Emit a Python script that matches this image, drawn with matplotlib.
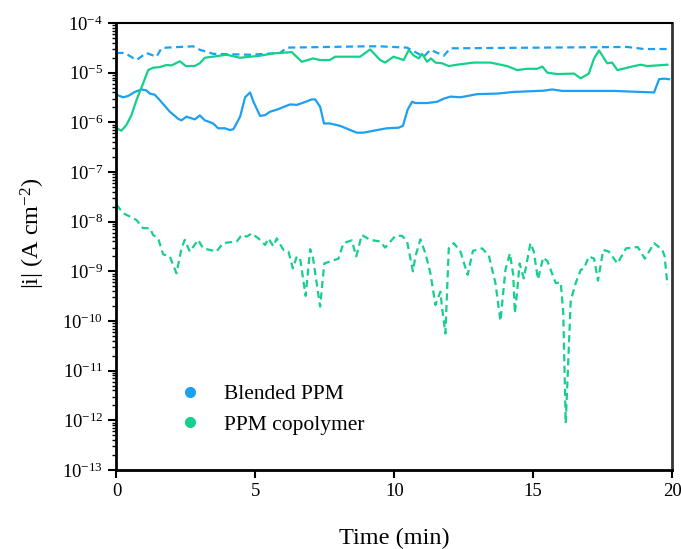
import matplotlib.pyplot as plt
from matplotlib.lines import Line2D
from matplotlib.ticker import LogLocator, LogFormatterMathtext, NullFormatter

# Blended PPM, dashed trace
blend_dash_t = [0, 0.3, 0.72, 1.08, 1.44, 1.62, 1.8, 2.76, 3.0, 3.48, 4.81, 5.89, 6.13,
                9.0, 9.49, 10.46, 11.06, 11.3, 11.78, 12.02, 18.39, 18.99, 19.89]
blend_dash_i = [2.5e-5, 2.5e-5, 1.8e-5, 2.5e-5, 2.1e-5, 3.1e-5, 3.2e-5, 3.4e-5, 2.9e-5,
                2.4e-5, 2.3e-5, 2.5e-5, 3.2e-5, 3.4e-5, 3.4e-5, 3.2e-5, 2.1e-5, 2.9e-5,
                2.2e-5, 3.1e-5, 3.3e-5, 3.0e-5, 3.0e-5]

# Blended PPM, solid trace
blend_t = [0, 0.24, 0.42, 0.66, 0.9, 1.08, 1.2, 1.38, 1.56, 1.92, 2.22, 2.34, 2.52, 2.82,
           3.0, 3.18, 3.48, 3.66, 3.9, 4.09, 4.21, 4.45, 4.63, 4.81, 4.93, 5.17, 5.35,
           5.53, 5.77, 6.07, 6.25, 6.49, 6.73, 7.03, 7.15, 7.33, 7.47, 7.68, 8.05, 8.65,
           8.89, 9.61, 9.73, 10.15, 10.31, 10.48, 10.64, 10.76, 11.18, 11.54, 11.78,
           12.02, 12.38, 12.98, 13.7, 14.3, 15.38, 15.68, 16.04, 17.9, 19.35, 19.53,
           19.71, 19.89]
blend_i = [3.6e-6, 3.2e-6, 3.4e-6, 4.1e-6, 4.6e-6, 4.4e-6, 3.8e-6, 3.6e-6, 2.8e-6, 1.64e-6,
           1.18e-6, 1.1e-6, 1.3e-6, 1.15e-6, 1.38e-6, 1.1e-6, 9.5e-7, 7.6e-7, 7.6e-7,
           7.0e-7, 7.3e-7, 1.3e-6, 3.2e-6, 4.0e-6, 2.6e-6, 1.35e-6, 1.4e-6, 1.64e-6,
           1.8e-6, 2.1e-6, 2.3e-6, 2.25e-6, 2.5e-6, 2.9e-6, 2.9e-6, 2.07e-6, 9.5e-7,
           9.5e-7, 8.5e-7, 6.2e-7, 6.2e-7, 7.4e-7, 7.6e-7, 7.8e-7, 8.5e-7, 1.8e-6,
           2.6e-6, 2.45e-6, 2.45e-6, 2.6e-6, 3.0e-6, 3.3e-6, 3.2e-6, 3.7e-6, 3.8e-6,
           4.1e-6, 4.35e-6, 4.6e-6, 4.3e-6, 4.3e-6, 4.0e-6, 7.4e-6, 7.6e-6, 7.4e-6]

# PPM copolymer, solid trace
copo_t = [0, 0.18, 0.36, 0.54, 0.72, 0.96, 1.14, 1.32, 1.56, 1.8, 1.98, 2.28, 2.5, 2.82,
          3.0, 3.18, 3.97, 4.45, 5.17, 5.65, 6.31, 6.67, 7.08, 7.32, 7.68, 7.87, 8.77,
          9.13, 9.49, 9.67, 9.97, 10.34, 10.52, 10.71, 10.88, 11.0, 11.18, 11.32, 11.48,
          11.72, 11.96, 12.26, 12.86, 13.46, 14.06, 14.42, 14.78, 15.14, 15.33, 15.51,
          15.87, 16.47, 16.71, 17.0, 17.19, 17.37, 17.66, 17.84, 18.03, 18.63, 18.87,
          19.11, 19.83]
copo_i = [7.6e-7, 6.8e-7, 8.9e-7, 1.4e-6, 2.8e-6, 6.1e-6, 1.13e-5, 1.26e-5, 1.3e-5, 1.43e-5,
          1.4e-5, 1.7e-5, 1.36e-5, 1.37e-5, 1.55e-5, 2.0e-5, 2.3e-5, 2.0e-5, 2.2e-5,
          2.45e-5, 2.6e-5, 1.66e-5, 1.94e-5, 1.8e-5, 1.8e-5, 2.1e-5, 2.1e-5, 2.95e-5,
          1.8e-5, 1.6e-5, 2.1e-5, 1.8e-5, 2.86e-5, 2.2e-5, 1.94e-5, 2.4e-5, 1.66e-5,
          1.94e-5, 1.6e-5, 1.55e-5, 1.36e-5, 1.45e-5, 1.6e-5, 1.6e-5, 1.36e-5, 1.13e-5,
          1.2e-5, 1.2e-5, 1.33e-5, 1.0e-5, 9.4e-6, 9.6e-6, 7.7e-6, 9.6e-6, 1.94e-5,
          2.8e-5, 1.55e-5, 1.6e-5, 1.13e-5, 1.36e-5, 1.45e-5, 1.36e-5, 1.45e-5]

# PPM copolymer, dashed trace
copo_dash_t = [0, 0.24, 0.48, 0.72, 0.96, 1.2, 1.32, 1.5, 1.68, 1.92, 2.16, 2.34, 2.46,
               2.64, 2.94, 3.12, 3.36, 3.6, 3.84, 4.33, 4.51, 4.69, 4.87, 5.11, 5.35, 5.47,
               5.65, 5.77, 6.01, 6.19, 6.35, 6.49, 6.61, 6.81, 6.97, 7.06, 7.33, 7.48,
               7.99, 8.17, 8.47, 8.63, 8.83, 9.13, 9.49, 9.67, 10.04, 10.28, 10.46, 10.67,
               10.76, 10.94, 11.12, 11.3, 11.48, 11.66, 11.72, 11.84, 11.96, 12.14, 12.38,
               12.64, 12.83, 12.98, 13.16, 13.4, 13.64, 13.82, 14.0, 14.16, 14.28, 14.34,
               14.42, 14.51, 14.66, 14.72, 14.9, 15.02, 15.17, 15.36, 15.51, 15.81, 15.99,
               16.08, 16.17, 16.35, 16.53, 16.71, 16.83, 17.0, 17.19, 17.33, 17.52, 17.72,
               18.03, 18.34, 18.76, 19.02, 19.35, 19.65, 19.73, 19.83]
copo_dash_i = [2.2e-8, 1.48e-8, 1.27e-8, 1.08e-8, 7.4e-9, 7.4e-9, 5.4e-9, 4.6e-9, 2.2e-9,
               2.0e-9, 9.1e-10, 2.9e-9, 4.3e-9, 2.5e-9, 4.3e-9, 2.9e-9, 2.7e-9, 2.5e-9,
               3.7e-9, 4.0e-9, 5.4e-9, 5.0e-9, 5.8e-9, 4.6e-9, 3.4e-9, 4.6e-9, 3.2e-9,
               4.6e-9, 2.7e-9, 2.5e-9, 1.14e-9, 2.0e-9, 1.8e-9, 3.2e-10, 2.8e-9, 2.1e-9,
               1.94e-10, 1.44e-9, 1.8e-9, 3.7e-9, 4.2e-9, 2.0e-9, 5.4e-9, 4.3e-9, 4.0e-9,
               3.0e-9, 5.2e-9, 5.2e-9, 4.0e-9, 1.0e-9, 2.0e-9, 4.4e-9, 2.3e-9, 9.1e-10,
               2.1e-10, 3.9e-10, 1.8e-10, 5.6e-11, 2.9e-9, 3.7e-9, 2.5e-9, 8.5e-10, 2.6e-9,
               2.7e-9, 2.9e-9, 2.1e-9, 5.8e-10, 1.0e-10, 1.07e-9, 2.3e-9, 8.5e-10, 1.43e-10,
               3.9e-10, 1.44e-9, 7.2e-10, 1.07e-9, 3.7e-9, 2.5e-9, 6.9e-10, 1.9e-9, 1.6e-9,
               5.8e-10, 6.0e-10, 1.5e-10, 8.7e-13, 2.6e-10, 5.8e-10, 1.07e-9, 1.14e-9,
               2.0e-9, 1.8e-9, 6.5e-10, 2.7e-9, 2.5e-9, 1.44e-9, 2.9e-9, 3.1e-9, 1.8e-9,
               3.7e-9, 2.7e-9, 2.0e-9, 5.3e-10]

labels = ['Blended PPM', 'PPM copolymer']
blue = '#1ba0f2'
green = '#14d08a'

plt.rcParams['font.family'] = ['Liberation Serif', 'DejaVu Serif']
plt.rcParams['mathtext.fontset'] = 'custom'
plt.rcParams['mathtext.rm'] = 'Liberation Serif'
plt.rcParams['mathtext.it'] = 'Liberation Serif:italic'

fig = plt.figure(figsize=(6.81, 5.49), dpi=100)
ax = fig.add_axes([0.171, 0.144, 0.816, 0.814])

dash = (3.2, 2.0)
ax.plot(blend_dash_t, blend_dash_i, color=blue, lw=1.6, ls=(0, dash))
ax.plot(blend_t, blend_i, color=blue, lw=1.6)
ax.plot(copo_t, copo_i, color=green, lw=1.6)
ax.plot(copo_dash_t, copo_dash_i, color=green, lw=1.6, ls=(0, dash))

ax.set_yscale('log')
ax.set_ylim(1e-13, 1e-4)
ax.set_xlim(0, 20)
ax.set_xticks([0, 5, 10, 15, 20])
ax.yaxis.set_major_locator(LogLocator(base=10, numticks=20))
ax.yaxis.set_major_formatter(LogFormatterMathtext())
ax.yaxis.set_minor_locator(LogLocator(base=10, subs=range(2, 10), numticks=20))
ax.yaxis.set_minor_formatter(NullFormatter())

ax.tick_params(axis='both', which='major', direction='out', length=6, width=1.5,
               labelsize=13.5, colors='black')
ax.tick_params(axis='y', which='minor', direction='out', length=3, width=1.0)
for side in ['left', 'bottom']:
    ax.spines[side].set_linewidth(2.0)
ax.spines['top'].set_linewidth(1.5)
ax.spines['right'].set_linewidth(2.0)
ax.spines['right'].set_color('#333333')

ax.set_xlabel('Time (min)', fontsize=17.5, labelpad=20)
ax.set_ylabel('|i| (A cm$^{-2}$)', fontsize=17.5, labelpad=8)
ax.yaxis.set_label_coords(-0.125, 0.53)

handles = [Line2D([], [], color=blue, marker='o', ls='none', markersize=7),
           Line2D([], [], color=green, marker='o', ls='none', markersize=7)]
ax.legend(handles, labels, loc='lower left', bbox_to_anchor=(0.078, 0.035),
          frameon=False, fontsize=15.5, labelspacing=0.49, handlelength=1.0,
          handletextpad=1.1)

fig.savefig('out.png', dpi=100)
